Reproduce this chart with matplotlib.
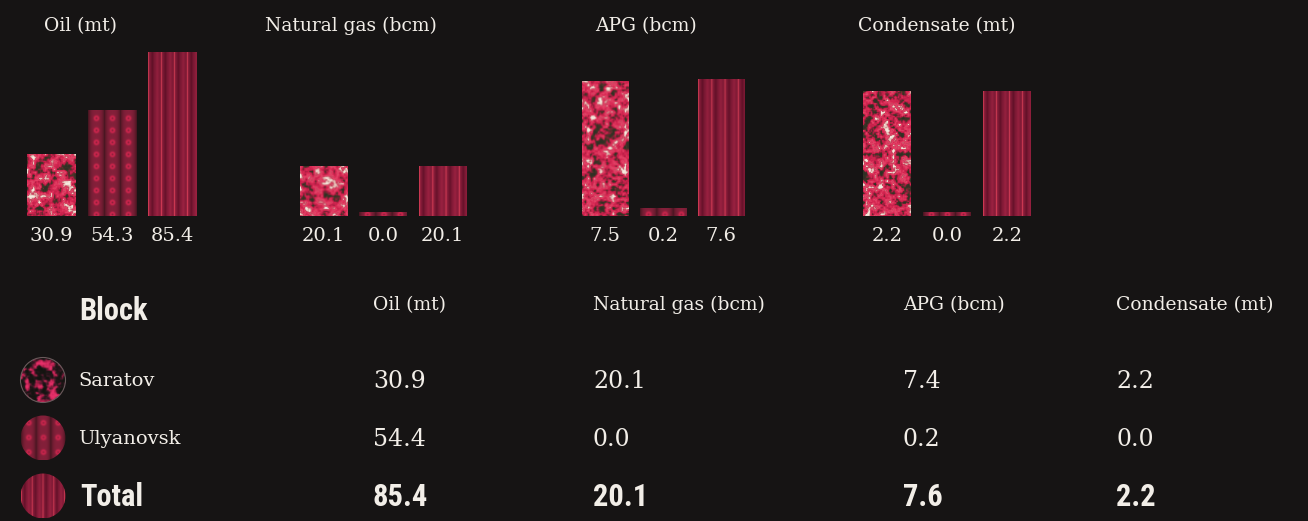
import numpy as np
import matplotlib
matplotlib.use("Agg")
import matplotlib.pyplot as plt
from matplotlib.colors import LinearSegmentedColormap, to_rgb
from matplotlib.patches import Circle

# ---- data ----
blocks = ["Saratov", "Ulyanovsk", "Total"]
products = ["Oil (mt)", "Natural gas (bcm)", "APG (bcm)", "Condensate (mt)"]
oil_bars = [30.9, 54.3, 85.4]
gas_bars = [20.1, 0.0, 20.1]
apg_bars = [7.5, 0.2, 7.6]
cond_bars = [2.2, 0.0, 2.2]
saratov_row = ["30.9", "20.1", "7.4", "2.2"]
ulyanovsk_row = ["54.4", "0.0", "0.2", "0.0"]
total_row = ["85.4", "20.1", "7.6", "2.2"]

# ---- layout / style ----
W, H = 1308, 521
BG = "#161414"
TXT = "#f2eee8"
SERIF = "DejaVu Serif"
COND = ["Roboto Condensed", "Liberation Sans Narrow", "DejaVu Sans"]

panel_left = [27, 300, 582, 863]
panel_right = [197, 466, 744, 1031]
title_x = [80, 351, 646, 937]
y_upper = [85.4, 69.9, 9.14, 2.91]
base_px, top_px = 216, 52
stub_px = 4

col_x = [373, 593, 903, 1116]
row_y = [381, 439, 497]
icon_x, icon_r = 43, 22.5


# ---- fill textures ----
def smooth_noise(h, w, cell, rng):
    gh, gw = int(h / cell) + 3, int(w / cell) + 3
    g = rng.random((gh, gw))
    yi = np.arange(h) / cell
    xi = np.arange(w) / cell
    y0 = np.floor(yi).astype(int)
    x0 = np.floor(xi).astype(int)
    fy = (yi - y0)[:, None]
    fx = (xi - x0)[None, :]
    a = g[np.ix_(y0, x0)]
    b = g[np.ix_(y0, x0 + 1)]
    c = g[np.ix_(y0 + 1, x0)]
    d = g[np.ix_(y0 + 1, x0 + 1)]
    return (a * (1 - fx) + b * fx) * (1 - fy) + (c * (1 - fx) + d * fx) * fy


def mottled(h, w, seed, stops):
    rng = np.random.default_rng(seed)
    v = (0.45 * smooth_noise(h, w, 6, rng) + 0.35 * smooth_noise(h, w, 3, rng)
         + 0.2 * smooth_noise(h, w, 1.6, rng))
    ranks = np.argsort(np.argsort(v.ravel())).reshape(v.shape)
    v = ranks / ranks.max()
    cmap = LinearSegmentedColormap.from_list("mot", stops)
    return cmap(v)[..., :3]


BRIGHT_STOPS = [(0.0, "#2e3024"), (0.07, "#4a3428"), (0.16, "#8a2038"),
                (0.3, "#c4204a"), (0.55, "#d82a54"), (0.78, "#e44468"),
                (0.9, "#c8405c"), (0.95, "#d89a98"), (1.0, "#f6ece0")]
DARK_STOPS = [(0.0, "#10140e"), (0.35, "#24161a"), (0.55, "#4a1a2a"),
              (0.78, "#a81e48"), (1.0, "#e8306a")]


def beads(h, w, px=16, py=12):
    y, x = np.mgrid[0:h, 0:w]
    fx = (x % px) / px - 0.5
    fy = (y % py) / py - 0.5
    base = np.array(to_rgb("#84203a"))
    dark = np.array(to_rgb("#4a1622"))
    bright = np.array(to_rgb("#d82650"))
    t = np.clip(np.abs(fx) * 2, 0, 1) ** 3
    img = base * (1 - t)[..., None] + dark * t[..., None]
    d = np.sqrt((fx * px) ** 2 + (fy * py) ** 2)
    ring = np.exp(-((d - 1.8) ** 2) / 1.6) * 0.8
    img = img * (1 - ring[..., None]) + bright * ring[..., None]
    return img


def stripes(h, w, period=13):
    x = np.arange(w)
    ph = (x % period) / period
    base = np.array(to_rgb("#801a36"))
    dark = np.array(to_rgb("#66122a"))
    mid = np.array(to_rgb("#94203e"))
    line = np.array(to_rgb("#c4364f"))

    def bump(c, s):
        dd = np.minimum(np.abs(ph - c), 1 - np.abs(ph - c))
        return np.exp(-(dd ** 2) / s)[:, None]

    row = base.copy() * np.ones((w, 1))
    for col, c, s in [(dark, 0.3, 0.012), (mid, 0.68, 0.015), (line, 0.0, 0.0035)]:
        b = bump(c, s)
        row = row * (1 - b) + col * b
    img = np.repeat(row[None, :, :], h, axis=0)
    yy = np.linspace(0, 1, h)[:, None, None]
    return np.clip(img * (0.96 + 0.08 * yy), 0, 1)


# ---- figure ----
fig = plt.figure(figsize=(W / 100, H / 100), dpi=100, facecolor=BG)

panel_values = [oil_bars, gas_bars, apg_bars, cond_bars]
for k, vals in enumerate(panel_values):
    l, r = panel_left[k], panel_right[k]
    ax = fig.add_axes([l / W, (H - base_px) / H, (r - l) / W, (base_px - top_px) / H])
    ax.set_facecolor("none")
    hi = y_upper[k]
    span_px = base_px - top_px
    lo = -hi * stub_px / (span_px - stub_px)
    xs = np.arange(len(vals))
    bars = ax.bar(xs, np.array(vals) - lo, bottom=lo, width=0.8,
                  facecolor="none", edgecolor="none")
    bar_w_px = int(round((r - l) / 2.8 * 0.8))
    texs = [mottled(span_px, bar_w_px, 11 + k, BRIGHT_STOPS),
            beads(span_px, bar_w_px),
            stripes(span_px, bar_w_px)]
    for i, patch in enumerate(bars.patches):
        im = ax.imshow(texs[i], extent=(i - 0.4, i + 0.4, lo, hi), aspect="auto",
                       interpolation="bilinear", zorder=2)
        im.set_clip_path(patch)
        ax.annotate(f"{vals[i]:.1f}", xy=(i, 0), xycoords=("data", "axes fraction"),
                    xytext=(0, -20 * 0.72), textcoords="offset points",
                    ha="center", va="center", color=TXT, fontsize=14,
                    family=SERIF)
    ax.set_xlim(-0.4, 2.4)
    ax.set_ylim(lo, hi)
    ax.axis("off")

# overlay in pixel coordinates for titles and table
ov = fig.add_axes([0, 0, 1, 1])
ov.set_facecolor("none")
ov.axis("off")

for k, name in enumerate(products):
    ov.text(title_x[k], 26, name, ha="center", va="center", color=TXT,
            fontsize=13.5, family=SERIF)
    ov.text(col_x[k], 305, name, ha="left", va="center", color=TXT,
            fontsize=13.5, family=SERIF)

ov.text(79, 311, "Block", ha="left", va="center", color=TXT, fontsize=22,
        family=COND, weight="bold", stretch="condensed")

rows = [saratov_row, ulyanovsk_row, total_row]
for j, (blk, row) in enumerate(zip(blocks, rows)):
    if j < 2:
        ov.text(78, row_y[j], blk, ha="left", va="center", color=TXT,
                fontsize=14, family=SERIF)
        for k, s in enumerate(row):
            ov.text(col_x[k], row_y[j], s, ha="left", va="center", color=TXT,
                    fontsize=17, family=SERIF)
    else:
        ov.text(80, row_y[j], blk, ha="left", va="center", color=TXT,
                fontsize=22, family=COND, weight="bold", stretch="condensed")
        for k, s in enumerate(row):
            ov.text(col_x[k], row_y[j], s, ha="left", va="center", color=TXT,
                    fontsize=22, family=COND, weight="bold", stretch="condensed")

# round legend icons
icon_texs = [mottled(46, 46, 5, DARK_STOPS), beads(46, 46, px=15, py=15),
             stripes(46, 46, period=11)]
for j, tex in enumerate(icon_texs):
    cy = row_y[j] - 1
    circ = Circle((icon_x, cy), icon_r, transform=ov.transData,
                  facecolor="none", edgecolor="#6a5a5c" if j == 0 else "none",
                  lw=0.8, zorder=4)
    ov.add_patch(circ)
    im = ov.imshow(tex, extent=(icon_x - icon_r, icon_x + icon_r,
                                cy + icon_r, cy - icon_r),
                   aspect="auto", interpolation="bilinear", zorder=3)
    im.set_clip_path(circ)
ov.set_xlim(0, W)
ov.set_ylim(H, 0)

fig.savefig("out.png", dpi=100, facecolor=BG)
